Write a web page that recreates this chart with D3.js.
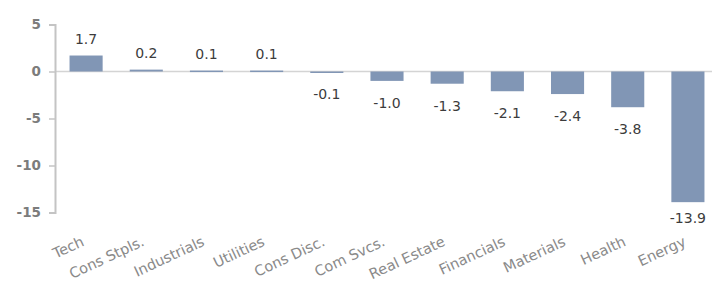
<!DOCTYPE html>
<html><head><meta charset="utf-8">
<script src="https://cdn.jsdelivr.net/npm/d3@7"></script>
<style>body{margin:0;background:#fff}</style>
</head><body><svg id="c" width="712" height="285"></svg>
<script>
const categories = ["Tech","Cons Stpls.","Industrials","Utilities","Cons Disc.","Com Svcs.","Real Estate","Financials","Materials","Health","Energy"];
const values = [1.7,0.2,0.1,0.1,-0.1,-1.0,-1.3,-2.1,-2.4,-3.8,-13.9];
const yTicks = [5,0,-5,-10,-15];

const svg = d3.select("#c");
const font = "'DejaVu Sans', sans-serif";
const fmt = v => d3.format(".1f")(v).replace("\u2212","-");
const y = d3.scaleLinear().domain([-15,5]).range([212.5,24.5]);
const x = d3.scaleBand().domain(categories).range([56,718]).paddingInner(0.45).paddingOuter(0.225);

// zero line
svg.append("line").attr("x1",55).attr("x2",712).attr("y1",y(0)).attr("y2",y(0))
  .attr("stroke","#d4d4d4").attr("stroke-width",1.5);

// y axis
const ya = svg.append("g").attr("transform","translate(55,0)")
  .call(d3.axisLeft(y).tickValues(yTicks).tickSize(6).tickPadding(8).tickFormat(d=>String(d)));
ya.select(".domain").attr("stroke","#c4c4c4").attr("stroke-width",2);
ya.selectAll(".tick line").attr("stroke","#c4c4c4").attr("stroke-width",1.5);
ya.selectAll(".tick text").attr("fill","#7c7c7c").attr("font-family",font).attr("font-size",13.5).attr("font-weight","bold");

// bars
svg.selectAll("rect.bar").data(values).enter().append("rect")
  .attr("x",(d,i)=>x(categories[i])).attr("width",x.bandwidth())
  .attr("y",d=>y(Math.max(0,d))).attr("height",d=>Math.max(1.5,Math.abs(y(d)-y(0))))
  .attr("fill","#8196b5");

// value labels
svg.selectAll("text.val").data(values).enter().append("text")
  .attr("x",(d,i)=>x(categories[i])+x.bandwidth()/2)
  .attr("y",d=> d>=0 ? y(d)-12 : Math.min(y(d)+27, 223))
  .attr("text-anchor","middle").attr("fill","#3c3c3c")
  .attr("font-family",font).attr("font-size",14)
  .text(d=>fmt(d));

// x labels
svg.selectAll("text.cat").data(categories).enter().append("text")
  .attr("transform",d=>`translate(${x(d)+x.bandwidth()/2-1},${245}) rotate(-25)`)
  .attr("text-anchor","end").attr("fill","#8a8a8a")
  .attr("font-family",font).attr("font-size",14.5)
  .text(d=>d);
</script></body></html>
